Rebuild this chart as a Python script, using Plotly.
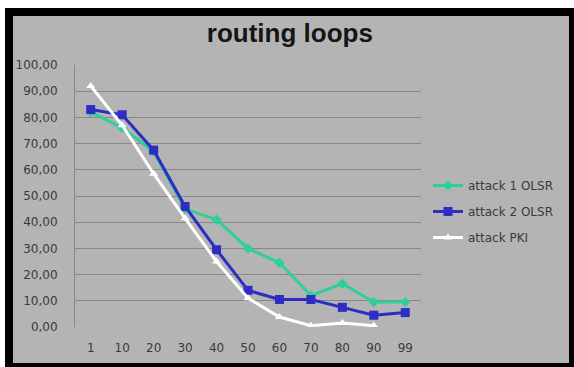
import plotly.graph_objects as go

categories = ["1", "10", "20", "30", "40", "50", "60", "70", "80", "90", "99"]
attack1_olsr = [82, 76, 67, 45, 41, 30, 24.5, 12, 16.5, 9.5, 9.5]
attack2_olsr = [83, 81, 67.5, 46, 29.5, 14, 10.5, 10.5, 7.5, 4.5, 5.5]
attack_pki = [92, 77, 58.5, 41.5, 25, 11, 3.8, 0.5, 1.5, 0.5, None]
y_ticks = [0, 10, 20, 30, 40, 50, 60, 70, 80, 90, 100]

W, H = 574, 367
ML, MR, MT, MB = 75, 153, 65, 40
PW, PH = W - ML - MR, H - MT - MB

def px_x(v):
    return (v - ML) / PW

def px_y(v):
    return (H - MB - v) / PH

fig = go.Figure()
fig.add_trace(go.Scatter(x=categories, y=attack1_olsr, name="attack 1 OLSR", legendgroup="a",
                         mode="lines+markers", line=dict(color="#2fcf98", width=3),
                         marker=dict(symbol="diamond", size=8, color="#2fcf98")))
fig.add_trace(go.Scatter(x=categories, y=attack2_olsr, name="attack 2 OLSR", legendgroup="b",
                         mode="lines+markers", line=dict(color="#2d2dc4", width=3),
                         marker=dict(symbol="square", size=9, color="#2d2dc4")))
fig.add_trace(go.Scatter(x=categories, y=attack_pki, name="attack PKI", legendgroup="c",
                         mode="lines+markers", line=dict(color="#ffffff", width=3),
                         marker=dict(symbol="triangle-up", size=8, color="#ffffff")))

gray = "#b4b4b4"
fig.add_shape(type="rect", xref="paper", yref="paper", layer="below",
              x0=px_x(5), x1=px_x(W), y0=px_y(H), y1=px_y(8),
              fillcolor="black", line=dict(width=0))
fig.add_shape(type="rect", xref="paper", yref="paper", layer="below",
              x0=px_x(13), x1=px_x(569), y0=px_y(363), y1=px_y(16),
              fillcolor=gray, line=dict(width=0))

tick_font = dict(family="DejaVu Sans, Verdana, sans-serif", size=12, color="#3a3a3a")

fig.update_layout(
    width=W, height=H,
    margin=dict(l=ML, r=MR, t=MT, b=MB),
    paper_bgcolor="white", plot_bgcolor="rgba(0,0,0,0)",
    separators=",.",
    font=dict(family="DejaVu Sans, Verdana, sans-serif", color="#3a3a3a", size=12),
    title=dict(text="<b>routing loops</b>", x=0.505, xanchor="center", y=1 - 33 / H,
               yanchor="middle",
               font=dict(family="Arial, Liberation Sans, sans-serif", size=26, color="#151515")),
    showlegend=True,
    legend=dict(x=px_x(428), xanchor="left", y=px_y(171), yanchor="top",
                bgcolor="rgba(0,0,0,0)",
                font=dict(family="DejaVu Sans, Verdana, sans-serif", size=12, color="#3a3a3a"),
                tracegroupgap=7, itemwidth=30),
    xaxis=dict(type="category", range=[-0.5, 10.5], showgrid=False, showline=False,
               zeroline=False, ticks="", ticklabelstandoff=12, tickfont=tick_font),
    yaxis=dict(range=[0, 100], tickvals=y_ticks, tickformat=".2f",
               showgrid=True, gridcolor="#888888", gridwidth=1,
               showline=True, linecolor="#888888", linewidth=1, zeroline=False,
               ticks="", ticklabelstandoff=14, tickfont=tick_font),
)

fig.write_html("out.html")
